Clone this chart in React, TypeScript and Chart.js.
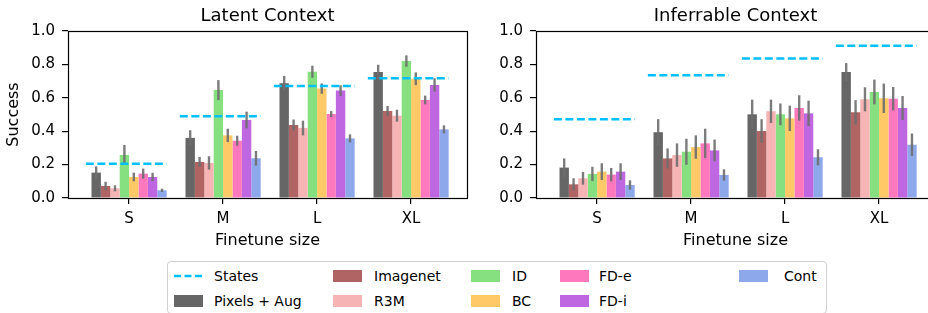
import React, { useEffect, useRef } from "react";
import { Chart, registerables } from "chart.js";
Chart.register(...registerables);

Chart.defaults.font.family = "'DejaVu Sans', sans-serif";
Chart.defaults.color = "#000";

// ---------- data ----------
const categories = ["S", "M", "L", "XL"];
const methods = ["Pixels + Aug", "Imagenet", "R3M", "ID", "BC", "FD-e", "FD-i", "Cont"];
const methodColors = ["#666666", "#b06464", "#f7b4b4", "#86e07f", "#fec966", "#fe78bd", "#bf66e1", "#8ea8ec"];
const statesLabel = "States";
const statesColor = "#00bfff";
const yTicks = [0, 0.2, 0.4, 0.6, 0.8, 1.0];

// Latent Context
const latentStates = [0.205, 0.49, 0.67, 0.717];
const latentPixels = [0.152, 0.36, 0.687, 0.754];
const latentImagenet = [0.072, 0.216, 0.437, 0.521];
const latentR3M = [0.058, 0.21, 0.419, 0.493];
const latentID = [0.258, 0.646, 0.756, 0.82];
const latentBC = [0.126, 0.375, 0.655, 0.714];
const latentFDe = [0.146, 0.343, 0.503, 0.587];
const latentFDi = [0.126, 0.467, 0.643, 0.677];
const latentCont = [0.046, 0.238, 0.357, 0.411];
const latentPixelsErr = [0.037, 0.046, 0.044, 0.044];
const latentImagenetErr = [0.025, 0.03, 0.033, 0.03];
const latentR3MErr = [0.018, 0.04, 0.044, 0.036];
const latentIDErr = [0.06, 0.06, 0.036, 0.034];
const latentBCErr = [0.026, 0.04, 0.031, 0.038];
const latentFDeErr = [0.03, 0.03, 0.018, 0.026];
const latentFDiErr = [0.025, 0.05, 0.032, 0.04];
const latentContErr = [0.01, 0.044, 0.024, 0.024];

// Inferrable Context
const inferStates = [0.472, 0.735, 0.836, 0.912];
const inferPixels = [0.182, 0.394, 0.501, 0.754];
const inferImagenet = [0.082, 0.237, 0.401, 0.513];
const inferR3M = [0.118, 0.257, 0.519, 0.591];
const inferID = [0.144, 0.277, 0.501, 0.635];
const inferBC = [0.158, 0.305, 0.477, 0.597];
const inferFDe = [0.14, 0.327, 0.539, 0.595];
const inferFDi = [0.158, 0.285, 0.507, 0.539];
const inferCont = [0.078, 0.138, 0.244, 0.319];
const inferPixelsErr = [0.055, 0.078, 0.088, 0.054];
const inferImagenetErr = [0.036, 0.06, 0.071, 0.073];
const inferR3MErr = [0.038, 0.07, 0.07, 0.072];
const inferIDErr = [0.043, 0.078, 0.065, 0.074];
const inferBCErr = [0.05, 0.07, 0.076, 0.088];
const inferFDeErr = [0.04, 0.088, 0.076, 0.07];
const inferFDiErr = [0.05, 0.065, 0.076, 0.072];
const inferContErr = [0.028, 0.034, 0.048, 0.067];

const latentValues = [latentPixels, latentImagenet, latentR3M, latentID, latentBC, latentFDe, latentFDi, latentCont];
const latentErrors = [latentPixelsErr, latentImagenetErr, latentR3MErr, latentIDErr, latentBCErr, latentFDeErr, latentFDiErr, latentContErr];
const inferValues = [inferPixels, inferImagenet, inferR3M, inferID, inferBC, inferFDe, inferFDi, inferCont];
const inferErrors = [inferPixelsErr, inferImagenetErr, inferR3MErr, inferIDErr, inferBCErr, inferFDeErr, inferFDiErr, inferContErr];

// ---------- styling ----------
const FONT = "'DejaVu Sans', sans-serif";
const STATE_FROM = -0.46;
const STATE_TO = 0.4;
const X_MIN = -0.65;
const X_MAX = 3.595;
const CANVAS_H = 252;

const errorBarPlugin = {
  id: "errorBars",
  afterDatasetDraw(chart: any, args: any) {
    const ds = chart.data.datasets[args.index];
    if (!ds.errors) return;
    const ys = chart.scales.y;
    const ctx = chart.ctx;
    ctx.save();
    ctx.strokeStyle = "rgba(110,110,110,0.9)";
    ctx.lineWidth = 2.4;
    args.meta.data.forEach((el: any, i: number) => {
      const v = ds.data[i].y;
      const e = ds.errors[i];
      ctx.beginPath();
      ctx.moveTo(el.x, ys.getPixelForValue(v - e));
      ctx.lineTo(el.x, ys.getPixelForValue(v + e));
      ctx.stroke();
    });
    ctx.restore();
  },
};

const framePlugin = {
  id: "frame",
  afterDatasetsDraw(chart: any) {
    const { left, top, right, bottom } = chart.chartArea;
    const ctx = chart.ctx;
    ctx.save();
    ctx.strokeStyle = "#000";
    ctx.lineWidth = 1.2;
    ctx.strokeRect(Math.round(left) + 0.5, Math.round(top) + 0.5, Math.round(right) - Math.round(left), Math.round(bottom) - Math.round(top));
    ctx.restore();
  },
};

type PanelProps = {
  title: string;
  states: number[];
  values: number[][];
  errors: number[][];
  showYTitle: boolean;
  left: number;
  width: number;
  axisWidth: number;
  padRight: number;
};

function Panel(p: PanelProps) {
  const ref = useRef<HTMLCanvasElement>(null);
  useEffect(() => {
    const statesData: any[] = [];
    p.states.forEach((v, i) => {
      statesData.push({ x: i + STATE_FROM, y: v }, { x: i + STATE_TO, y: v }, { x: i + 0.5, y: null });
    });
    const datasets: any[] = [
      {
        type: "line",
        label: statesLabel,
        data: statesData,
        borderColor: statesColor,
        borderWidth: 2.5,
        borderDash: [8, 3.5],
        pointRadius: 0,
        spanGaps: false,
        order: 0,
      },
      ...methods.map((m, k) => ({
        type: "bar",
        label: m,
        data: p.values[k].map((v, i) => ({ x: i, y: v })),
        errors: p.errors[k],
        backgroundColor: methodColors[k],
        borderWidth: 0,
        categoryPercentage: 0.8,
        barPercentage: 1.0,
        order: 1,
      })),
    ];
    const chart = new Chart(ref.current!, {
      type: "bar",
      data: { datasets },
      plugins: [errorBarPlugin, framePlugin],
      options: {
        animation: false,
        responsive: false,
        events: [],
        layout: { padding: { left: 0, right: p.padRight, top: 0, bottom: 0 } },
        plugins: {
          legend: { display: false },
          tooltip: { enabled: false },
          title: {
            display: true,
            text: p.title,
            fullSize: false,
            color: "#000",
            font: { family: FONT, size: 18, weight: "normal" },
            padding: { top: 5.2, bottom: 4.2 },
          },
        },
        scales: {
          x: {
            type: "linear",
            min: X_MIN,
            max: X_MAX,
            offset: false,
            afterBuildTicks: (s: any) => {
              s.ticks = categories.map((_, i) => ({ value: i }));
            },
            afterFit: (s: any) => {
              s.height = CANVAS_H - 198;
            },
            ticks: {
              autoSkip: false,
              maxRotation: 0,
              padding: 6,
              color: "#000",
              font: { family: FONT, size: 15 },
              callback: (v: any) => categories[v] ?? "",
            },
            grid: { display: true, drawOnChartArea: false, drawTicks: true, tickLength: 6, color: "#000", lineWidth: 1.2, offset: false },
            border: { display: false },
            title: {
              display: true,
              text: "Finetune size",
              color: "#000",
              font: { family: FONT, size: 16 },
              padding: { top: 0, bottom: 1.1 },
            },
          },
          y: {
            type: "linear",
            min: 0,
            max: 1,
            afterBuildTicks: (s: any) => {
              s.ticks = yTicks.map((v) => ({ value: v }));
            },
            afterFit: (s: any) => {
              s.width = p.axisWidth;
            },
            ticks: {
              padding: 7,
              color: "#000",
              font: { family: FONT, size: 15 },
              callback: (v: any) => Number(v).toFixed(1),
            },
            grid: { display: true, drawOnChartArea: false, drawTicks: true, tickLength: 6, color: "#000", lineWidth: 1.2 },
            border: { display: false },
            title: {
              display: p.showYTitle,
              text: "Success",
              color: "#000",
              font: { family: FONT, size: 16 },
              padding: { top: 4.5, bottom: 0 },
            },
          },
        },
      } as any,
    });
    return () => chart.destroy();
  }, []);
  return (
    <div style={{ position: "absolute", left: p.left, top: 0, width: p.width, height: CANVAS_H }}>
      <canvas ref={ref} width={p.width} height={CANVAS_H} style={{ width: p.width, height: CANVAS_H, display: "block" }} />
    </div>
  );
}

// legend layout (column-major, 5 columns x 2 rows)
const legendCols = [
  [statesLabel, methods[0]],
  [methods[1], methods[2]],
  [methods[3], methods[4]],
  [methods[5], methods[6]],
  [methods[7]],
];
const legendPatchX = [173, 332, 470, 559, 738];
const legendTextX = [213, 373, 511, 598, 783];
const legendRowY = [275, 300];

function Legend() {
  const items: React.ReactNode[] = [];
  legendCols.forEach((col, c) => {
    col.forEach((label, r) => {
      const cy = legendRowY[r] - 261;
      const px = legendPatchX[c] - 167;
      const tx = legendTextX[c] - 167;
      if (label === statesLabel) {
        items.push(
          <svg key={label + "p"} style={{ position: "absolute", left: px, top: cy - 3 }} width={29} height={6}>
            <line x1={0} y1={3} x2={29} y2={3} stroke={statesColor} strokeWidth={2.5} strokeDasharray="7,3.5" />
          </svg>
        );
      } else {
        const k = methods.indexOf(label);
        items.push(
          <div key={label + "p"} style={{ position: "absolute", left: px, top: cy - 6, width: 29, height: 11.5, background: methodColors[k] }} />
        );
      }
      items.push(
        <span key={label + "t"} style={{ position: "absolute", left: tx, top: cy - 7.7, fontFamily: FONT, fontSize: 14, lineHeight: "16px", whiteSpace: "nowrap", color: "#000" }}>
          {label}
        </span>
      );
    });
  });
  return (
    <div
      style={{
        position: "absolute",
        left: 167,
        top: 261,
        width: 660,
        height: 53,
        boxSizing: "border-box",
        border: "1px solid #d0d0d0",
        borderRadius: 4,
        background: "rgba(255,255,255,0.8)",
      }}
    >
      {items}
    </div>
  );
}

export default function App() {
  return (
    <div style={{ position: "fixed", left: 0, top: 0, width: 928, height: 313, overflow: "hidden", background: "#fff" }}>
      <Panel title="Latent Context" states={latentStates} values={latentValues} errors={latentErrors} showYTitle={true} left={0} width={475} axisWidth={68} padRight={8} />
      <Panel title="Inferrable Context" states={inferStates} values={inferValues} errors={inferErrors} showYTitle={false} left={475} width={470} axisWidth={61} padRight={10} />
      <Legend />
    </div>
  );
}
